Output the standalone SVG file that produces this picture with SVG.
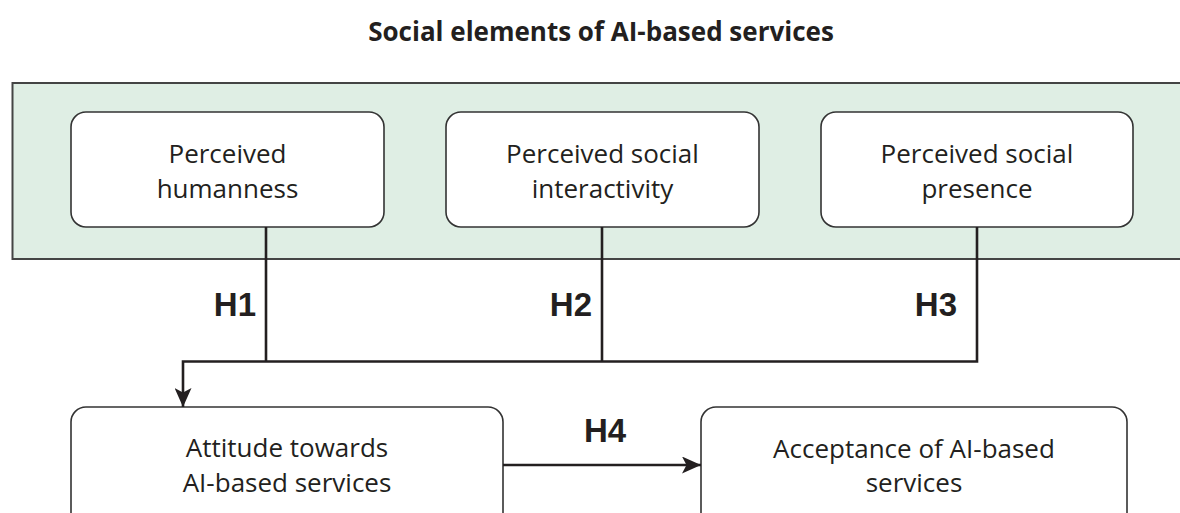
<svg xmlns="http://www.w3.org/2000/svg" width="1180" height="513" viewBox="0 0 1180 513">
  <style>
    .title { font-family: "Open Sans", "Noto Sans", sans-serif; font-weight: 700; font-size: 26px; fill: #231f20; text-anchor: middle; }
    .box { fill: #ffffff; stroke: #333333; stroke-width: 1.6; }
    .label { font-family: "Open Sans", "Noto Sans", sans-serif; font-size: 26px; fill: #231f20; text-anchor: middle; }
    .hyp { font-family: "Liberation Sans", Arial, sans-serif; font-weight: 700; font-size: 33px; fill: #231f20; }
    .wire { fill: none; stroke: #231f20; stroke-width: 2.6; }
  </style>
  <defs>
    <marker id="arrow" viewBox="0 0 19 17" refX="19" refY="8.5" markerWidth="19" markerHeight="17" markerUnits="userSpaceOnUse" orient="auto">
      <path d="M0,0 L19,8.5 L0,17 L4.5,8.5 Z" fill="#231f20"/>
    </marker>
  </defs>

  <rect width="1180" height="513" fill="#ffffff"/>

  <text class="title" x="601" y="41">Social elements of AI-based services</text>

  <!-- shaded band holding the social elements -->
  <g id="social-elements">
    <path d="M1182,83 H12.5 V259 H1182" fill="#dfeee4" stroke="#444444" stroke-width="2"/>
  </g>

  <g id="humanness">
    <rect class="box" x="71" y="112" width="313" height="115" rx="15"/>
    <text class="label" x="227.5" y="163">Perceived</text>
    <text class="label" x="227.5" y="198">humanness</text>
  </g>

  <g id="interactivity">
    <rect class="box" x="446" y="112" width="313" height="115" rx="15"/>
    <text class="label" x="602.5" y="163">Perceived social</text>
    <text class="label" x="602.5" y="198">interactivity</text>
  </g>

  <g id="presence">
    <rect class="box" x="821" y="112" width="312" height="115" rx="15"/>
    <text class="label" x="977" y="163">Perceived social</text>
    <text class="label" x="977" y="198">presence</text>
  </g>

  <g id="attitude">
    <rect class="box" x="71" y="407" width="432" height="130" rx="15"/>
    <text class="label" x="287" y="457">Attitude towards</text>
    <text class="label" x="287" y="492">AI-based services</text>
  </g>

  <g id="acceptance">
    <rect class="box" x="701" y="407" width="426" height="130" rx="15"/>
    <text class="label" x="914" y="458">Acceptance of AI-based</text>
    <text class="label" x="914" y="492">services</text>
  </g>

  <g id="connectors">
    <path class="wire" d="M266,227 V361.5"/>
    <path class="wire" d="M602,227 V361.5"/>
    <path class="wire" d="M977,227 V361.5 H183 V407" marker-end="url(#arrow)"/>
    <path class="wire" d="M503,465 H701" marker-end="url(#arrow)"/>
    <text class="hyp" x="256" y="316" text-anchor="end">H1</text>
    <text class="hyp" x="592" y="316" text-anchor="end">H2</text>
    <text class="hyp" x="957" y="316" text-anchor="end">H3</text>
    <text class="hyp" x="605" y="442" text-anchor="middle">H4</text>
  </g>
</svg>
